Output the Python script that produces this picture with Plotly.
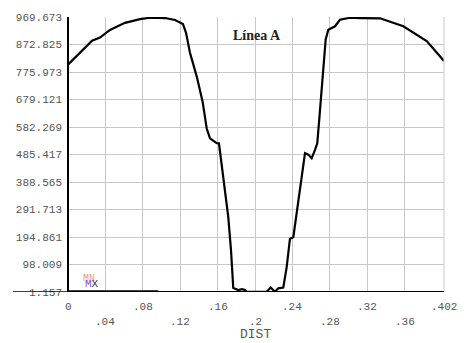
import plotly.graph_objects as go

# Curve data (DIST vs value)
dist = [0.0, 0.0128, 0.0257, 0.0342, 0.0449, 0.0609, 0.0770, 0.0877, 0.1037, 0.1144,
        0.1229, 0.1262, 0.1304, 0.1379, 0.1440, 0.1483, 0.1518, 0.1590, 0.1614, 0.1625,
        0.1668, 0.1714, 0.1743, 0.1767, 0.1821, 0.1860, 0.1892, 0.1911, 0.1978, 0.2124,
        0.2167, 0.2213, 0.2248, 0.2302, 0.2338, 0.2373, 0.2409, 0.2462, 0.2534, 0.2569,
        0.2605, 0.2641, 0.2665, 0.2687, 0.2702, 0.2730, 0.2755, 0.2783, 0.2855, 0.2908,
        0.3015, 0.3122, 0.3336, 0.3585, 0.3692, 0.3835, 0.4020]
value = [802, 844, 886, 897, 924, 949, 962, 967, 966, 959,
         945, 914, 844, 757, 670, 577, 542, 525, 525, 496,
         381, 264, 147, 15, 8, 11, 8, 2, 2, 2,
         17, 2, 14, 17, 89, 189, 194, 322, 490, 485,
         472, 502, 525, 612, 670, 786, 891, 925, 937, 960,
         967, 966, 965, 937, 914, 885, 815]

# Short near-zero segment at the bottom left
low_dist = [0.0, 0.0965]
low_value = [3, 3]

y_ticks = [1.157, 98.009, 194.861, 291.713, 388.565, 485.417, 582.269, 679.121, 775.973, 872.825, 969.673]
y_labels = ["1.157", "98.009", "194.861", "291.713", "388.565", "485.417", "582.269", "679.121", "775.973", "872.825", "969.673"]
x_grid = [0, 0.04, 0.08, 0.12, 0.16, 0.2, 0.24, 0.28, 0.32, 0.36, 0.402]
x_labels = ["0", ".04", ".08", ".12", ".16", ".2", ".24", ".28", ".32", ".36", ".402"]

mono = "Liberation Mono"
gray = "#555555"

fig = go.Figure()
fig.add_trace(go.Scatter(x=low_dist, y=low_value, mode="lines",
                         line=dict(color="black", width=2.5), showlegend=False, hoverinfo="skip"))
fig.add_trace(go.Scatter(x=dist, y=value, mode="lines",
                         line=dict(color="black", width=2.2), showlegend=False))

fig.update_layout(
    width=473, height=343,
    margin=dict(l=68, r=29, t=14, b=51),
    paper_bgcolor="white", plot_bgcolor="white",
    xaxis=dict(range=[0, 0.402], tickvals=x_grid, showticklabels=False,
               showgrid=True, gridcolor="#c8c8c8", gridwidth=1, zeroline=False,
               showline=False, ticks=""),
    yaxis=dict(range=[1.157, 969.673], tickvals=y_ticks, ticktext=y_labels,
               showgrid=True, gridcolor="#c8c8c8", gridwidth=1, zeroline=False,
               showline=False, ticks="", ticklabelstandoff=5,
               tickfont=dict(family=mono, size=11, color=gray)),
)

# Right border line
fig.add_shape(type="line", xref="paper", yref="paper", x0=1, x1=1, y0=0, y1=1,
              line=dict(color="#c8c8c8", width=1))
# Axis lines (left and bottom, bottom extends left through the lowest label)
fig.add_shape(type="line", xref="paper", yref="paper", x0=0, x1=0, y0=0, y1=1,
              line=dict(color="black", width=2))
fig.add_shape(type="line", xref="paper", yref="y", x0=-0.146, x1=1, y0=1.157, y1=1.157,
              line=dict(color="black", width=1.5))
fig.add_shape(type="line", xref="paper", yref="y", x0=0, x1=1, y0=1.157, y1=1.157,
              line=dict(color="black", width=2))

# X tick labels in two staggered rows
for i, (v, t) in enumerate(zip(x_grid, x_labels)):
    fig.add_annotation(x=v, xref="x", y=-15 / 278 if i % 2 == 0 else -30 / 278, yref="paper",
                       text=t, showarrow=False, yanchor="middle",
                       font=dict(family=mono, size=11, color=gray))

fig.add_annotation(x=0.2, xref="x", y=-43 / 278, yref="paper", text="DIST", showarrow=False,
                   yanchor="middle", font=dict(family=mono, size=13, color=gray))

fig.add_annotation(x=0.503, xref="paper", y=259 / 278, yref="paper", text="<b>Línea A</b>",
                   showarrow=False, yanchor="middle",
                   font=dict(family="Liberation Serif", size=14, color="#222222"))

# MN / MX markers
fig.add_annotation(x=0.0225, xref="x", y=50, yref="y", text="MN", showarrow=False,
                   yanchor="middle", opacity=0.75,
                   font=dict(family=mono, size=10, color="#e8803a"))
fig.add_annotation(x=0.0255, xref="x", y=30, yref="y",
                   text="<span style='color:#8a4fd0'>M</span>X", showarrow=False,
                   yanchor="middle", font=dict(family=mono, size=11, color="#333333"))

fig.write_html("out.html", config={"displayModeBar": False},
               post_script="document.body.style.margin='0';")
